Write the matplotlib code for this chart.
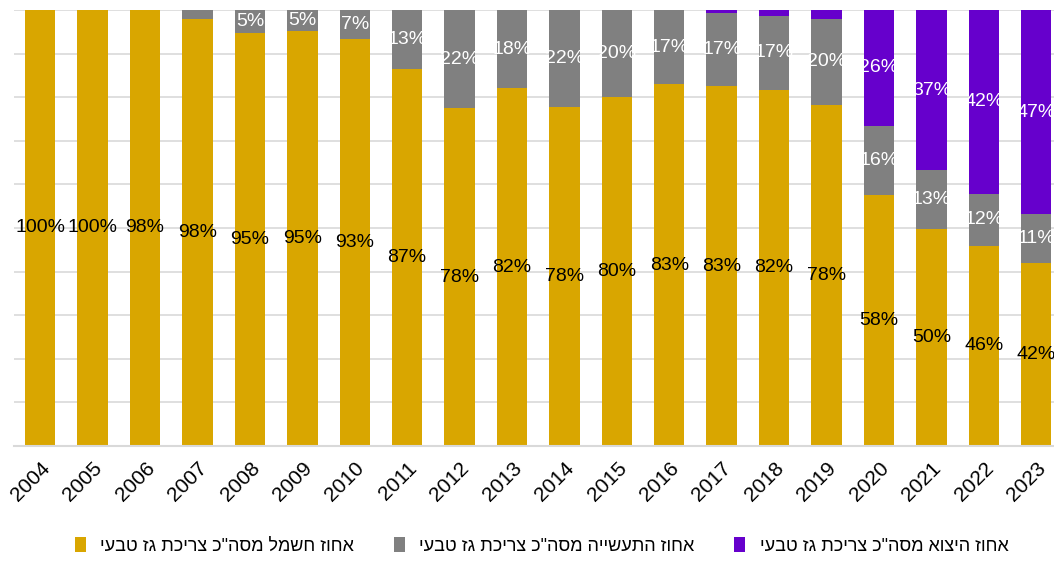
import matplotlib
matplotlib.use("Agg")
import matplotlib.pyplot as plt
import numpy as np

# Share of natural gas consumption by sector, percent
years = [str(y) for y in range(2004, 2024)]
electricity = [100, 100, 100, 98, 94.7, 95.2, 93.3, 86.5, 77.5, 82, 77.8, 80, 83, 82.5, 81.7, 78.2, 57.6, 49.8, 45.9, 42]
industry = [0, 0, 0, 2, 5.3, 4.8, 6.7, 13.5, 22.5, 18, 22.2, 20, 17, 16.7, 17, 19.8, 15.9, 13.5, 12, 11.1]
export = [0, 0, 0, 0, 0, 0, 0, 0, 0, 0, 0, 0, 0, 0.8, 1.3, 2.0, 26.5, 36.7, 42.1, 46.9]

# Data labels as printed on the chart ("" = no label)
electricity_labels = ["100%", "100%", "98%", "98%", "95%", "95%", "93%", "87%", "78%", "82%",
                      "78%", "80%", "83%", "83%", "82%", "78%", "58%", "50%", "46%", "42%"]
industry_labels = ["", "", "", "", "5%", "5%", "7%", "13%", "22%", "18%",
                   "22%", "20%", "17%", "17%", "17%", "20%", "16%", "13%", "12%", "11%"]
export_labels = [""] * 16 + ["26%", "37%", "42%", "47%"]

series_names = [
    'אחוז חשמל מסה"כ צריכת גז טבעי',
    'אחוז התעשייה מסה"כ צריכת גז טבעי',
    'אחוז היצוא מסה"כ צריכת גז טבעי',
]

GOLD = "#D9A600"
GRAY = "#808080"
PURPLE = "#6600CC"
GRID = "#D9D9D9"
FONT = ["Liberation Sans", "DejaVu Sans"]

plt.rcParams["font.family"] = FONT


def rtl(s: str) -> str:
    # matplotlib has no bidi support: lay Hebrew out in visual order
    return s[::-1]


fig = plt.figure(figsize=(10.54, 5.61), dpi=100)
ax = fig.add_axes([14 / 1054, 1 - 446 / 561, 1 - 14 / 1054, 436 / 561])

x = np.arange(len(years))
width = 0.58
elec = np.array(electricity)
ind = np.array(industry)
exp_ = np.array(export)

ax.bar(x, elec, width, color=GOLD, label=rtl(series_names[0]), zorder=2)
ax.bar(x, ind, width, bottom=elec, color=GRAY, label=rtl(series_names[1]), zorder=2)
ax.bar(x, exp_, width, bottom=elec + ind, color=PURPLE, label=rtl(series_names[2]), zorder=2)

for i in x:
    if electricity_labels[i]:
        ax.text(i, elec[i] / 2, electricity_labels[i], ha="center", va="center",
                fontsize=14, color="black", zorder=3)
    if industry_labels[i]:
        ax.text(i, elec[i] + ind[i] / 2, industry_labels[i], ha="center", va="center",
                fontsize=14, color="white", zorder=3)
    if export_labels[i]:
        ax.text(i, elec[i] + ind[i] + exp_[i] / 2, export_labels[i], ha="center", va="center",
                fontsize=14, color="white", zorder=3)

ax.set_xlim(-0.5, 19.34)
ax.set_ylim(0, 100)
ax.set_yticks(np.arange(0, 101, 10))
ax.set_yticklabels([])
ax.tick_params(axis="y", length=0)
ax.yaxis.grid(True, color=GRID, linewidth=1.2, zorder=0)
ax.set_axisbelow(True)

ax.set_xticks(x)
ax.set_xticklabels(years, rotation=45, ha="right", rotation_mode="anchor", fontsize=15)
ax.tick_params(axis="x", length=0, pad=9)

for side in ("top", "right", "left"):
    ax.spines[side].set_visible(False)
ax.spines["bottom"].set_color(GRID)
ax.spines["bottom"].set_linewidth(1.5)

fig.legend(loc="lower center", bbox_to_anchor=(0.514, -0.018), ncol=3, frameon=False,
           fontsize=13, handlelength=0.6, handleheight=0.9, handletextpad=0.8,
           columnspacing=2.2)

fig.savefig("out.png", dpi=100)
